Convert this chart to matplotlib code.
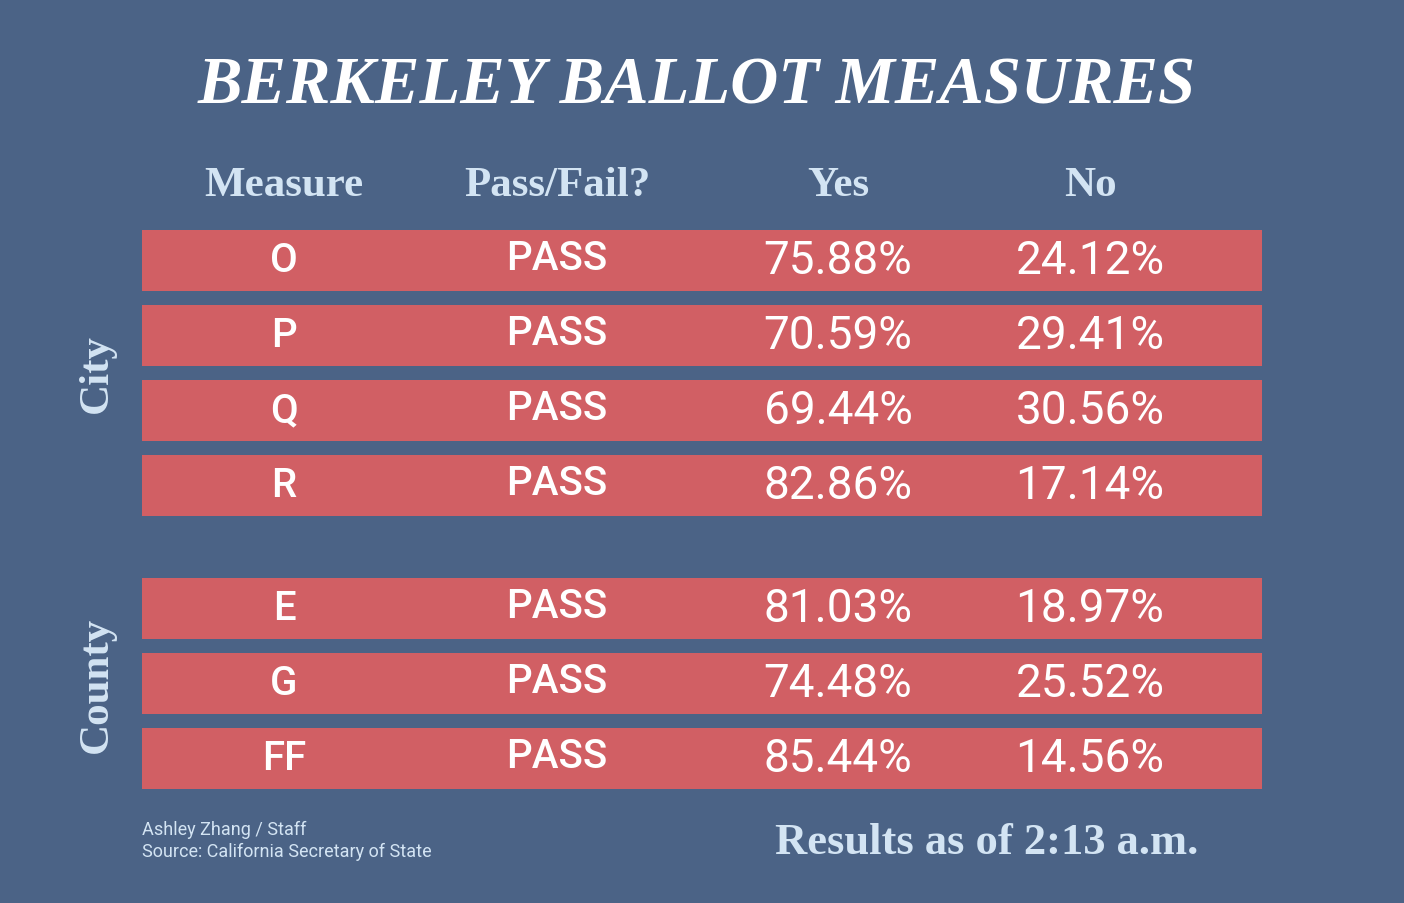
import matplotlib
matplotlib.use("Agg")
import matplotlib.pyplot as plt

measures = ["O", "P", "Q", "R", "E", "G", "FF"]
status = ["PASS"] * 7
yes = ["75.88%", "70.59%", "69.44%", "82.86%", "81.03%", "74.48%", "85.44%"]
no = ["24.12%", "29.41%", "30.56%", "17.14%", "18.97%", "25.52%", "14.56%"]
groups = ["City", "City", "City", "City", "County", "County", "County"]
headers = ["Measure", "Pass/Fail?", "Yes", "No"]

BG = "#4b6386"
RED = "#d15f64"
LB = "#d3e4f3"

fig = plt.figure(figsize=(14.04, 9.04), dpi=100)
fig.patch.set_facecolor(BG)
ax = fig.add_axes([0, 0, 1, 1])
ax.set_xlim(0, 1404)
ax.set_ylim(904, 0)
ax.axis("off")
ax.set_facecolor(BG)

tops = [231, 306, 381, 456, 579, 654, 729]
h = 61
ax.barh([t + h / 2 for t in tops], 1120, height=h, left=142, color=RED)

cols = [284, 557, 838, 1090]
serif = "Liberation Serif"
ax.text(697, 87, "BERKELEY BALLOT MEASURES", color="white", fontsize=48,
        fontweight="bold", fontstyle="italic", family=serif, ha="center", va="center")
for x, hd in zip(cols, headers):
    ax.text(x, 186, hd, color=LB, fontsize=31, fontweight="bold", family=serif,
            ha="center", va="center")
for i, t in enumerate(tops):
    cy = t + h / 2
    ax.text(cols[0], cy, measures[i], color="white", fontsize=29, fontweight="medium",
            family="Roboto", ha="center", va="center")
    ax.text(cols[1], cy - 2, status[i], color="white", fontsize=29, fontweight="medium",
            family="Roboto", ha="center", va="center")
    ax.text(cols[2], cy, yes[i], color="white", fontsize=33, fontweight="normal",
            family="Roboto", ha="center", va="center")
    ax.text(cols[3], cy, no[i], color="white", fontsize=33, fontweight="normal",
            family="Roboto", ha="center", va="center")

for g in ["City", "County"]:
    idx = [i for i, gg in enumerate(groups) if gg == g]
    y0 = tops[idx[0]]; y1 = tops[idx[-1]] + h
    ax.text(97, (y0 + y1) / 2, g, color=LB, fontsize=31, fontweight="bold",
            family=serif, rotation=90, ha="center", va="center")

ax.text(142, 830, "Ashley Zhang / Staff", color=LB, fontsize=13, family="Roboto",
        ha="left", va="center")
ax.text(142, 852, "Source: California Secretary of State", color=LB, fontsize=13,
        family="Roboto", ha="left", va="center")
ax.text(1198, 843, "Results as of 2:13 a.m.", color=LB, fontsize=32, fontweight="bold",
        family=serif, ha="right", va="center")

fig.savefig("out.png", dpi=100, facecolor=BG)
